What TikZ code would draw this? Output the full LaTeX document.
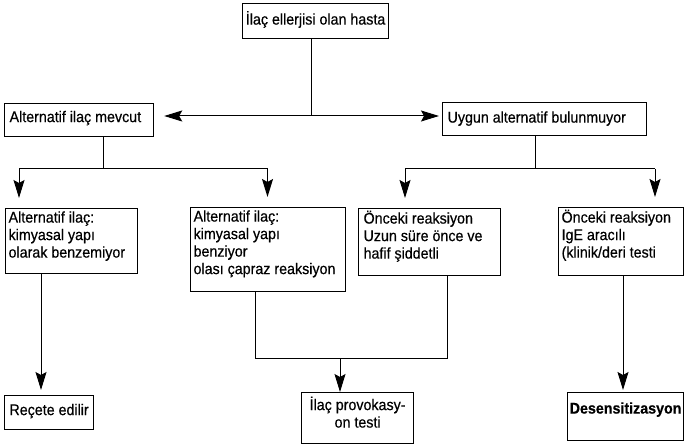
\documentclass[tikz,border=0pt]{standalone}
\usepackage{fontspec}
\setmainfont{Liberation Sans}[FakeBold=0.5, FakeStretch=0.92]
\usetikzlibrary{arrows.meta}
% #1 box height, #2 text width, #3 alignment, #4 first baseline depth, #5 text
\newcommand{\flowtext}[5]{\parbox[c][#1][t]{#2}{#3\rule{0pt}{#4}#5}}

\begin{document}
\begin{tikzpicture}[x=1pt,y=-1pt,
  flowbox/.style={draw, line width=1.2pt, inner ysep=0pt, inner xsep=3pt,
    anchor=north west, font=\fontsize{15.5}{17.5}\selectfont},
  tight/.style={inner xsep=0pt},
  link/.style={line width=1pt},
  arr/.style={link, -{Stealth[length=18pt,width=11pt,inset=3pt]}}]

\useasboundingbox (0,0) rectangle (686,446);

% boxes
\node[flowbox, tight] (top) at (242,3)
  {\flowtext{35pt}{146pt}{\centering}{21pt}{İlaç ellerjisi olan hasta}};
\node[flowbox, inner xsep=5pt] (altmev) at (4,103)
  {\flowtext{33pt}{139pt}{\raggedright}{18.5pt}{Alternatif ilaç mevcut}};
\node[flowbox, inner xsep=5pt] (uygun) at (442,102)
  {\flowtext{33pt}{194pt}{\raggedright}{20pt}{Uygun alternatif bulunmuyor}};

\node[flowbox] (b1) at (5,208)
  {\flowtext{65pt}{126pt}{\raggedright}{14pt}{Alternatif ilaç:\\kimyasal yapı\\olarak benzemiyor}};
\node[flowbox] (b2) at (190,207)
  {\flowtext{84pt}{149pt}{\raggedright}{14pt}{Alternatif ilaç:\\kimyasal yapı\\benziyor\\olası çapraz reaksiyon}};
\node[flowbox, inner xsep=5pt] (b3) at (358,208)
  {\flowtext{67pt}{132pt}{\raggedright}{15pt}{Önceki reaksiyon\\Uzun süre önce ve\\hafif şiddetli}};
\node[flowbox] (b4) at (558,207)
  {\flowtext{68pt}{119pt}{\raggedright}{15pt}{Önceki reaksiyon\\IgE aracılı\\(klinik/deri testi}};

\node[flowbox, tight] (recete) at (4,395)
  {\flowtext{34pt}{89pt}{\centering}{19.5pt}{Reçete edilir}};
\node[flowbox, tight] (provo) at (301,392)
  {\flowtext{51pt}{112pt}{\centering}{17.5pt}{İlaç provokasy-\\on testi}};
\node[flowbox, tight] (desens) at (567,392)
  {\flowtext{48pt}{116pt}{\centering}{21pt}{\bfseries Desensitizasyon}};

% junction points
\coordinate (j0) at (311,116);
\coordinate (j1) at (103,169);
\coordinate (j1l) at (19,169);
\coordinate (j1r) at (267.5,169);
\coordinate (j2) at (535,169);
\coordinate (j2l) at (405,169);
\coordinate (j2r) at (655,169);
\coordinate (r1) at (41,300);
\coordinate (j3l) at (255,359);
\coordinate (j3) at (340,359);
\coordinate (j3r) at (447,359);
\coordinate (r4) at (623,300);

% first split
\draw[link] (top.south -| j0) -- (j0);
\draw[arr, shorten >=10pt] (j0) -- (j0 -| altmev.east);
\draw[arr, shorten >=3pt] (j0) -- (j0 -| uygun.west);

% alternative available
\draw[link] (altmev.south -| j1) -- (j1);
\draw[link] (j1l) -- (j1r);
\draw[arr, shorten >=10pt] (j1l) -- (b1.north -| j1l);
\draw[arr, shorten >=10pt] (j1r) -- (b2.north -| j1r);

% no alternative
\draw[link] (uygun.south -| j2) -- (j2);
\draw[link] (j2l) -- (j2r);
\draw[arr, shorten >=10pt] (j2l) -- (b3.north -| j2l);
\draw[arr, shorten >=10pt] (j2r) -- (b4.north -| j2r);

% outcomes
\draw[arr, shorten >=5pt] (b1.south -| r1) -- (recete.north -| r1);
\draw[link] (b2.south -| j3l) -- (j3l) -- (j3r) -- (b3.south -| j3r);
\draw[arr] (j3) -- (provo.north -| j3);
\draw[arr, shorten >=2pt] (b4.south -| r4) -- (desens.north -| r4);
\end{tikzpicture}
\end{document}
